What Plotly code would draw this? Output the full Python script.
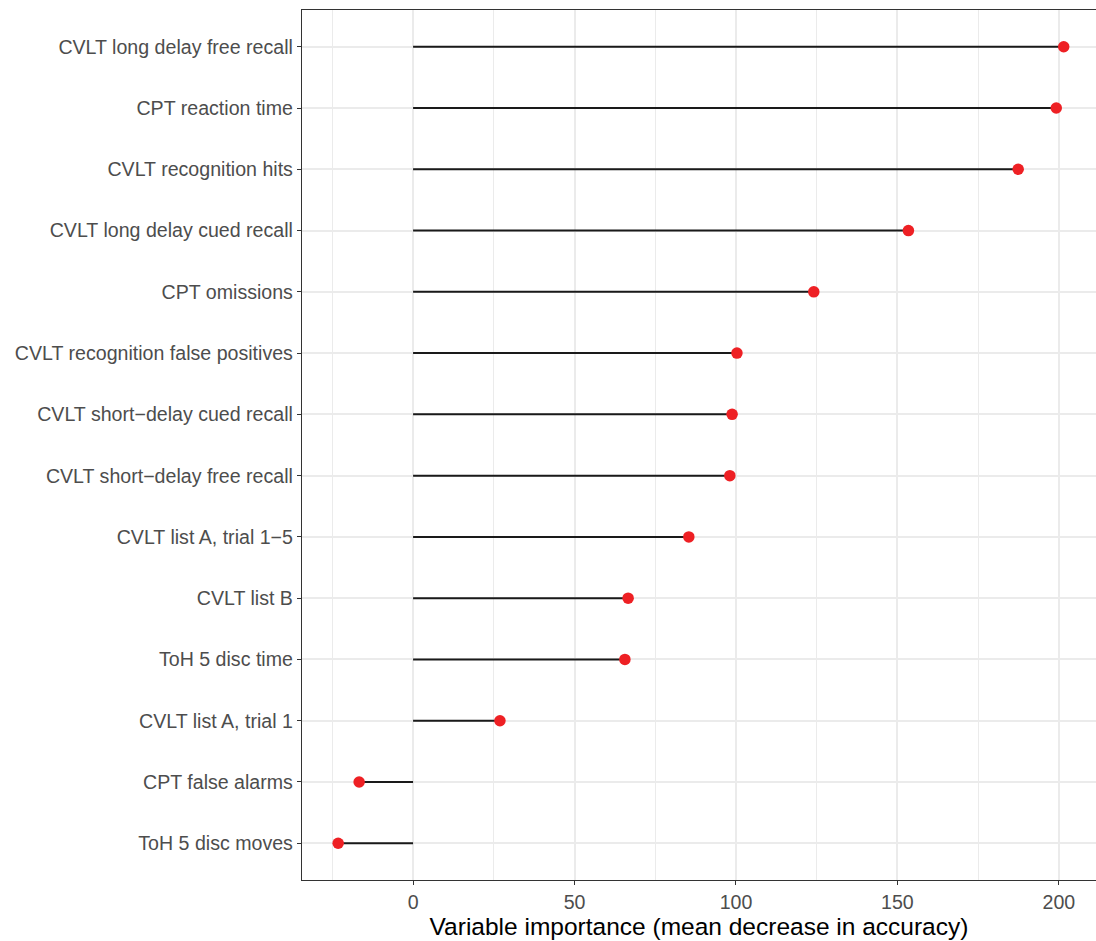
import plotly.graph_objects as go

variables = [
    "CVLT long delay free recall",
    "CPT reaction time",
    "CVLT recognition hits",
    "CVLT long delay cued recall",
    "CPT omissions",
    "CVLT recognition false positives",
    "CVLT short\u2212delay cued recall",
    "CVLT short\u2212delay free recall",
    "CVLT list A, trial 1\u22125",
    "CVLT list B",
    "ToH 5 disc time",
    "CVLT list A, trial 1",
    "CPT false alarms",
    "ToH 5 disc moves",
]
importance = [201.5, 199.2, 187.4, 153.4, 124.1, 100.3, 98.8, 98.1, 85.4, 66.6, 65.6, 26.9, -16.7, -23.2]
x_ticks = [0, 50, 100, 150, 200]

seg_x, seg_y = [], []
for v, val in zip(variables, importance):
    seg_x += [0, val, None]
    seg_y += [v, v, None]

fig = go.Figure()
fig.add_trace(go.Scatter(x=seg_x, y=seg_y, mode="lines",
                         line=dict(color="#1a1a1a", width=2), hoverinfo="skip",
                         showlegend=False))
fig.add_trace(go.Scatter(x=importance, y=variables, mode="markers",
                         marker=dict(color="#EE2024", size=11.5, line=dict(width=0)),
                         showlegend=False))

fig.update_layout(
    width=1096, height=941,
    margin=dict(l=302, r=0, t=10, b=61),
    plot_bgcolor="white", paper_bgcolor="white",
    font=dict(family="Liberation Sans, Arial, sans-serif"),
    xaxis=dict(
        range=[-34.4, 211.5], tickvals=x_ticks, ticktext=[str(t) for t in x_ticks],
        showgrid=True, gridcolor="#EBEBEB", gridwidth=1.8,
        minor=dict(dtick=25, tick0=0, showgrid=True, gridcolor="#EBEBEB", gridwidth=0.9),
        zeroline=False, showline=True, linecolor="#333333", linewidth=1.3, mirror=True,
        ticks="outside", ticklen=4, tickcolor="#333333", tickwidth=1.3,
        tickfont=dict(size=19.6, color="#4D4D4D"),
        title=dict(text="Variable importance (mean decrease in accuracy)",
                   font=dict(size=24.5, color="black"), standoff=2),
    ),
    yaxis=dict(
        type="category", categoryorder="array", categoryarray=variables,
        range=[len(variables) - 0.4, -0.6],
        showgrid=True, gridcolor="#EBEBEB", gridwidth=1.8,
        zeroline=False, showline=True, linecolor="#333333", linewidth=1.3,
        ticks="outside", ticklen=4, tickcolor="#333333", tickwidth=1.3,
        tickfont=dict(size=19.6, color="#4D4D4D"),
    ),
)

fig.write_html("out.html",
               config={"displayModeBar": False},
               post_script="document.body.style.margin='0';document.body.style.overflow='hidden';")
